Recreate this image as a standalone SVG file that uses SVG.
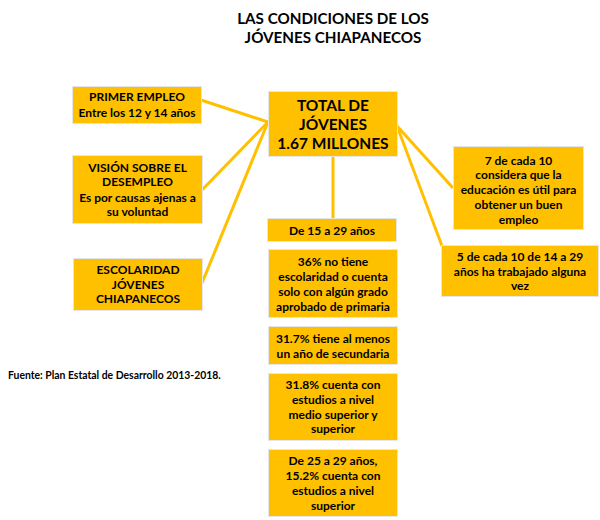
<svg xmlns="http://www.w3.org/2000/svg" width="600" height="520" viewBox="0 0 600 520">
<style>
.box{fill:#FFC000;stroke:#e6e6e6;stroke-width:1}
.t{font-family:Lato,"Liberation Sans",sans-serif;font-weight:bold;font-size:12px;fill:#000;text-anchor:middle}
.big{font-size:15.5px}
.ttl{font-size:15.2px}
.con{stroke:#FFC000;stroke-width:3;fill:none}
</style>
<rect width="600" height="520" fill="#fff"/>
<g id="title">
<text class="t ttl" x="333" y="24">LAS CONDICIONES DE LOS</text>
<text class="t ttl" x="333" y="43">JÓVENES CHIAPANECOS</text>
</g>
<g id="connectors">
<line class="con" x1="201" y1="100" x2="268" y2="122"/>
<line class="con" x1="202" y1="190" x2="268" y2="122"/>
<line class="con" x1="202" y1="283" x2="268" y2="122"/>
<line class="con" x1="397" y1="126" x2="453" y2="188"/>
<line class="con" x1="397" y1="126" x2="442" y2="246"/>
<line class="con" x1="333" y1="157" x2="333" y2="218"/>
</g>
<g id="primer">
<rect class="box" x="72.5" y="86.5" width="129" height="37"/>
<text class="t" x="137" y="101">PRIMER EMPLEO</text>
<text class="t" x="137" y="117">Entre los 12 y 14 años</text>
</g>
<g id="vision">
<rect class="box" x="72.5" y="155.5" width="130" height="68"/>
<text class="t" x="137.5" y="171.5">VISIÓN SOBRE EL</text>
<text class="t" x="137.5" y="186">DESEMPLEO</text>
<text class="t" x="137.5" y="201.5">Es por causas ajenas a</text>
<text class="t" x="137.5" y="216">su voluntad</text>
</g>
<g id="escolaridad">
<rect class="box" x="73.5" y="258.5" width="129" height="52"/>
<text class="t" x="138" y="273.5">ESCOLARIDAD</text>
<text class="t" x="138" y="288.5">JÓVENES</text>
<text class="t" x="138" y="302.5">CHIAPANECOS</text>
</g>
<g id="total">
<rect class="box" x="268.5" y="91.5" width="129" height="65"/>
<text class="t big" x="333" y="111">TOTAL DE</text>
<text class="t big" x="333" y="130">JÓVENES</text>
<text class="t big" x="333" y="149">1.67 MILLONES</text>
</g>
<g id="edad">
<rect class="box" x="267.5" y="218.5" width="129" height="23"/>
<text class="t" x="332" y="235">De 15 a 29 años</text>
</g>
<g id="p36">
<rect class="box" x="268.5" y="249.5" width="129" height="68"/>
<text class="t" x="333" y="266">36% no tiene</text>
<text class="t" x="333" y="281">escolaridad o cuenta</text>
<text class="t" x="333" y="295.5">solo con algún grado</text>
<text class="t" x="333" y="310.5">aprobado de primaria</text>
</g>
<g id="p317">
<rect class="box" x="268.5" y="326.5" width="129" height="38"/>
<text class="t" x="333" y="342.5">31.7% tiene al menos</text>
<text class="t" x="333" y="358">un año de secundaria</text>
</g>
<g id="p318">
<rect class="box" x="268.5" y="373.5" width="129" height="67"/>
<text class="t" x="333" y="389">31.8% cuenta con</text>
<text class="t" x="333" y="404">estudios a nivel</text>
<text class="t" x="333" y="418.5">medio superior y</text>
<text class="t" x="333" y="433">superior</text>
</g>
<g id="p152">
<rect class="box" x="268.5" y="449.5" width="129" height="67"/>
<text class="t" x="333" y="464.5">De 25 a 29 años,</text>
<text class="t" x="333" y="479.5">15.2% cuenta con</text>
<text class="t" x="333" y="494.5">estudios a nivel</text>
<text class="t" x="333" y="509.5">superior</text>
</g>
<g id="educacion">
<rect class="box" x="453.5" y="146.5" width="130" height="83"/>
<text class="t" x="518.5" y="164.5">7 de cada 10</text>
<text class="t" x="518.5" y="179">considera que la</text>
<text class="t" x="518.5" y="193.5">educación es útil para</text>
<text class="t" x="518.5" y="208.5">obtener un buen</text>
<text class="t" x="518.5" y="223.5">empleo</text>
</g>
<g id="trabajo">
<rect class="box" x="441.5" y="245.5" width="157" height="51"/>
<text class="t" x="520" y="261">5 de cada 10 de 14 a 29</text>
<text class="t" x="520" y="275.5">años ha trabajado alguna</text>
<text class="t" x="520" y="290">vez</text>
</g>
<g id="fuente">
<text class="t" style="font-size:10.4px;text-anchor:start" x="8" y="379">Fuente: Plan Estatal de Desarrollo 2013-2018.</text>
</g>
</svg>
